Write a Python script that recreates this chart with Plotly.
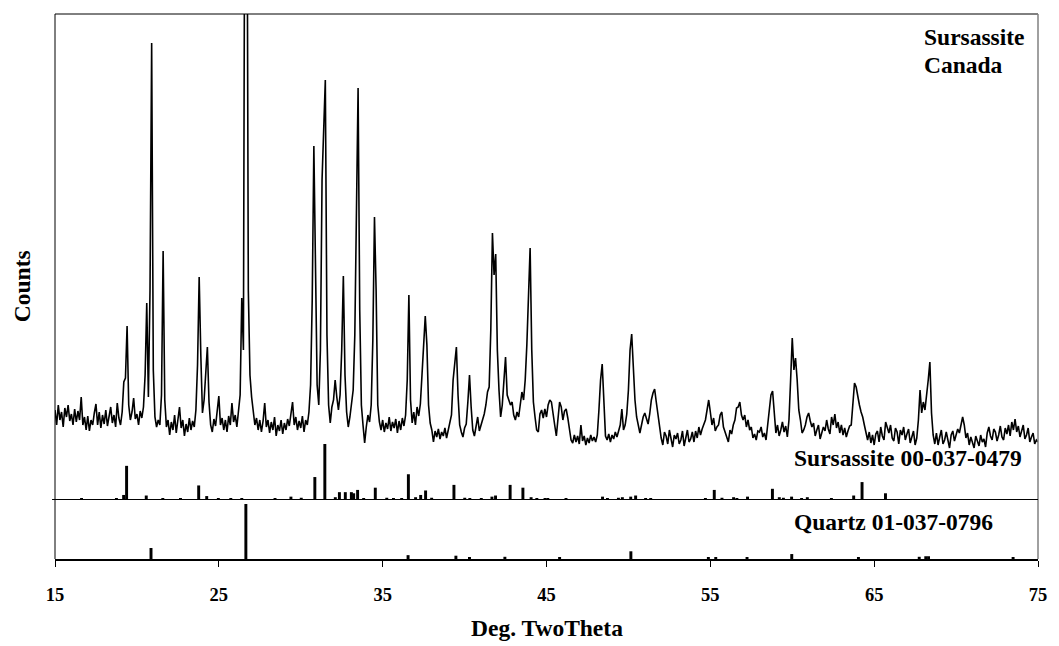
import plotly.graph_objects as go

# ---- measured pattern (step scan, 0.1 deg) ----
two_theta_start = 15.0
two_theta_step = 0.1
counts = [
    180,150,190,160,176,146,184,166,190,158,  # 15
    172,150,182,156,178,160,206,150,166,140,  # 16
    168,138,160,150,174,192,150,176,144,170,  # 17
    152,180,148,172,186,154,170,146,194,164,  # 18
    150,176,236,244,348,190,160,176,204,162,  # 19
    172,150,178,164,186,250,394,206,420,914,  # 20
    260,166,146,160,150,210,498,200,146,160,  # 21
    130,156,140,170,134,160,186,144,160,128,  # 22
    152,136,164,140,158,146,180,270,446,290,  # 23
    174,200,250,306,196,150,136,162,148,176,  # 24
    208,150,164,140,160,136,168,150,194,156,  # 25
    170,146,176,210,404,300,1500,1500,420,250,  # 26
    206,170,150,164,140,160,136,158,194,146,  # 27
    160,134,156,140,166,128,150,138,160,132,  # 28
    154,140,162,148,170,196,150,166,140,158,  # 29
    144,168,136,160,150,176,230,400,708,460,  # 30
    230,190,300,640,766,840,330,190,154,186,  # 31
    200,240,206,180,210,300,448,250,176,146,  # 32
    166,196,220,330,600,824,380,190,150,114,  # 33
    146,170,156,190,320,566,420,190,156,140,  # 34
    160,136,154,142,166,138,156,144,162,134,  # 35
    158,140,164,148,170,240,410,200,154,176,  # 36
    150,186,168,192,250,320,368,310,190,154,  # 37
    140,116,138,126,142,122,136,128,144,124,  # 38
    140,150,170,240,276,306,210,150,136,126,  # 39
    144,152,196,250,186,140,128,148,166,138,  # 40
    150,160,172,190,216,226,340,534,450,492,  # 41
    300,220,166,190,236,286,210,200,190,196,  # 42
    170,160,176,166,190,216,200,240,310,420,  # 43
    504,300,196,166,140,136,172,180,164,182,  # 44
    166,190,200,196,168,150,128,172,196,186,  # 45
    160,178,182,164,146,120,114,130,116,128,  # 46
    112,150,118,128,110,124,114,130,118,126,  # 47
    116,130,180,240,272,180,128,120,132,116,  # 48
    130,122,136,126,140,150,182,140,150,172,  # 49
    220,300,332,266,200,166,148,134,150,166,  # 50
    174,160,152,172,200,214,222,196,168,140,  # 51
    124,110,136,128,112,140,118,106,130,122,  # 52
    134,112,120,138,108,126,140,116,122,136,  # 53
    116,138,124,146,130,142,150,160,180,200,  # 54
    176,150,164,138,146,150,170,176,146,136,  # 55
    126,116,140,132,150,160,184,186,196,170,  # 56
    160,170,146,160,140,146,124,132,120,138,  # 57
    136,146,126,134,120,150,180,210,218,180,  # 58
    134,150,128,140,156,136,148,126,160,240,  # 59
    324,260,284,240,180,160,134,140,150,166,  # 60
    174,158,146,154,128,140,150,122,136,146,  # 61
    138,160,142,132,166,150,172,144,156,134,  # 62
    150,130,144,126,138,148,150,200,234,226,  # 63
    206,190,176,166,150,136,120,136,114,130,  # 64
    110,132,138,116,146,128,120,156,142,134,  # 65
    150,124,118,144,136,112,140,130,146,120,  # 66
    132,142,114,126,138,110,124,160,220,174,  # 67
    196,180,206,240,276,174,130,112,134,110,  # 68
    126,140,112,120,136,116,104,130,138,118,  # 69
    128,142,134,150,166,150,124,134,110,126,  # 70
    112,104,128,118,108,130,116,122,106,134,  # 71
    146,128,120,142,136,118,130,148,126,120,  # 72
    144,132,150,128,156,140,162,136,148,126,  # 73
    138,150,122,130,144,116,126,134,112,120,  # 74
    116,                                      # 75
]
two_theta = [round(two_theta_start + i * two_theta_step, 1) for i in range(len(counts))]

# ---- reference pattern: Sursassite 00-037-0479 ----
surs_pos = [16.62, 18.75, 19.19, 19.37, 20.57, 21.58, 22.66, 23.77, 24.26, 24.97,
            25.73, 26.40, 28.43, 29.40, 30.03, 30.86, 31.47, 32.11, 32.36, 32.72,
            33.09, 33.23, 33.47, 33.84, 34.55, 35.25, 35.66, 36.16, 36.57, 37.01,
            37.32, 37.62, 37.99, 39.35, 40.01, 40.32, 41.02, 41.67, 41.89, 42.78,
            43.56, 44.06, 44.41, 44.91, 45.08, 46.19, 48.42, 48.72, 49.39, 49.63,
            50.14, 50.44, 51.05, 51.36, 54.70, 55.24, 55.71, 56.42, 56.62, 57.27,
            58.79, 59.21, 59.46, 59.96, 60.57, 60.92, 62.39, 63.75, 64.26, 65.69]
surs_int = [3, 3, 9, 61, 8, 3, 2, 26, 7, 3,
            2, 3, 3, 6, 4, 41, 100, 5, 14, 14,
            14, 12, 18, 3, 22, 4, 3, 3, 46, 5,
            9, 17, 4, 27, 4, 3, 3, 6, 8, 27,
            22, 5, 3, 3, 3, 3, 6, 3, 4, 5,
            6, 8, 3, 3, 3, 18, 4, 5, 3, 6,
            20, 5, 4, 6, 3, 5, 3, 8, 32, 12]

# ---- reference pattern: Quartz 01-037-0796 ----
qtz_pos = [20.86, 26.65, 36.55, 39.47, 40.30, 42.46, 45.80, 50.15, 54.88, 55.33,
           57.24, 59.97, 64.04, 67.75, 68.15, 68.32, 73.48]
qtz_int = [20, 100, 7, 6, 3, 4, 2, 14, 3, 2,
           2, 9, 2, 4, 5, 5, 2]

x_ticks = [15, 25, 35, 45, 55, 65, 75]

FONT = "Liberation Serif"
W, H = 1059, 646
ML, MR, MT, MB = 55, 16, 14, 87
plot_h = H - MT - MB
d0 = 59 / plot_h  # split between sample panel and quartz panel

fig = go.Figure()
fig.add_trace(go.Scatter(x=two_theta, y=counts, mode="lines",
                         line=dict(color="black", width=1.6), xaxis="x", yaxis="y",
                         showlegend=False, hoverinfo="skip"))
fig.add_trace(go.Bar(x=surs_pos, y=surs_int, width=0.18, marker=dict(color="black", line=dict(width=0)),
                     xaxis="x", yaxis="y2", showlegend=False))
fig.add_trace(go.Bar(x=qtz_pos, y=qtz_int, width=0.18, marker=dict(color="black", line=dict(width=0)),
                     xaxis="x", yaxis="y3", showlegend=False))

fig.update_layout(
    width=W, height=H, margin=dict(l=ML, r=MR, t=MT, b=MB),
    paper_bgcolor="white", plot_bgcolor="white", barmode="overlay",
    xaxis=dict(range=[15, 75], tickvals=x_ticks, ticktext=[str(t) for t in x_ticks],
               ticks="outside", ticklen=6, tickwidth=1, tickcolor="black",
               showline=True, linecolor="black", linewidth=2, showgrid=False, zeroline=False,
               anchor="y3", ticklabelstandoff=12,
               tickfont=dict(family=FONT, size=18.5, color="black", weight="bold")),
    yaxis=dict(domain=[d0, 1], range=[0, 972], visible=False, fixedrange=True),
    yaxis2=dict(overlaying="y", range=[0, 868], visible=False),
    yaxis3=dict(domain=[0, d0], range=[0, 107.3], visible=False),
)

# frame lines
fig.add_shape(type="line", xref="paper", yref="paper", x0=0, x1=1, y0=1, y1=1,
              line=dict(color="black", width=1))
fig.add_shape(type="line", xref="paper", yref="paper", x0=0, x1=0, y0=0, y1=1,
              line=dict(color="black", width=1))
fig.add_shape(type="line", xref="paper", yref="paper", x0=1, x1=1, y0=0, y1=1,
              line=dict(color="#808080", width=1.5))
fig.add_shape(type="line", xref="paper", yref="y2", x0=-0.003, x1=1.0, y0=0, y1=0,
              line=dict(color="black", width=2))

def px_x(px):
    return (px - ML) / (W - ML - MR)

def px_y(py):
    return (H - MB - py) / plot_h

def ann(text, x, y, xanchor="left", size=23.5, angle=0):
    fig.add_annotation(text="<b>%s</b>" % text, xref="paper", yref="paper", x=x, y=y,
                       xanchor=xanchor, yanchor="middle", showarrow=False, textangle=angle,
                       font=dict(family=FONT, size=size, color="black"))

ann("Sursassite", px_x(926), px_y(37))
ann("Canada", px_x(926), px_y(65))
ann("Sursassite 00-037-0479", px_x(796), px_y(458))
ann("Quartz 01-037-0796", px_x(796), px_y(522))
ann("Deg. TwoTheta", px_x(550), px_y(628), xanchor="center")
ann("Counts", px_x(22), px_y(286), xanchor="center", angle=-90)

fig.write_html("out.html")
